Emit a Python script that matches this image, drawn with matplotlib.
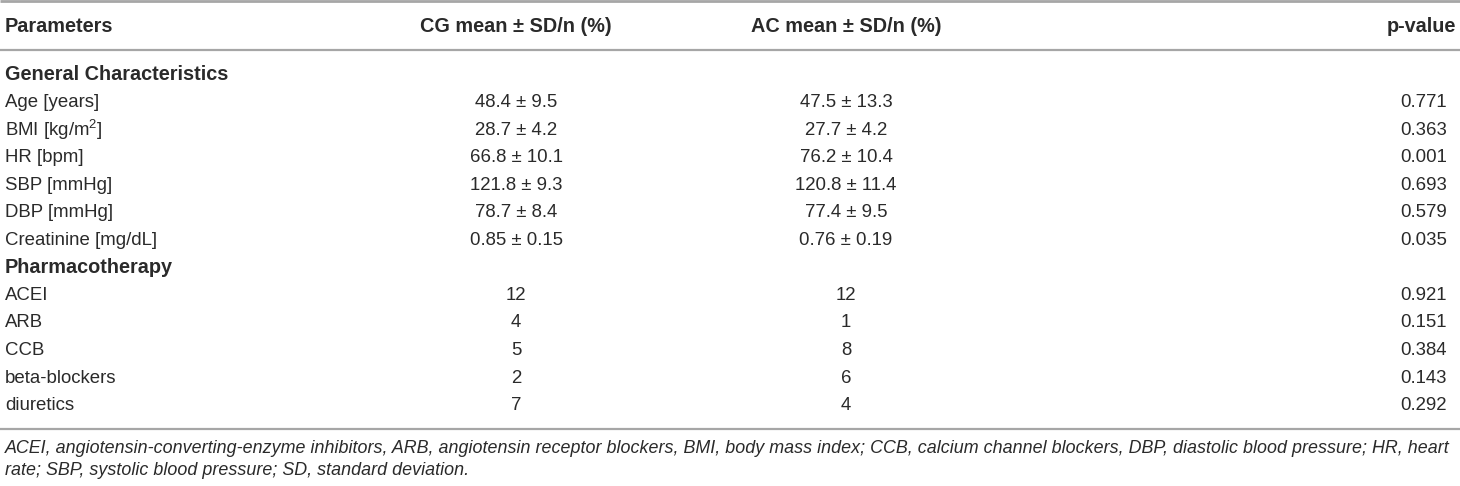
import matplotlib
matplotlib.use("Agg")
import matplotlib.pyplot as plt

plt.rcParams['font.family'] = ['Liberation Sans', 'DejaVu Sans']
plt.rcParams['mathtext.fontset'] = 'custom'
plt.rcParams['mathtext.rm'] = 'Liberation Sans'
plt.rcParams['mathtext.it'] = 'Liberation Sans:italic'
plt.rcParams['mathtext.bf'] = 'Liberation Sans:bold'

headers = ["Parameters", "CG mean \u00b1 SD/n (%)", "AC mean \u00b1 SD/n (%)", "p-value"]
sections = ["General Characteristics", "Pharmacotherapy"]
params_general = ["Age [years]", "BMI [kg/m$^{2}$]", "HR [bpm]", "SBP [mmHg]", "DBP [mmHg]", "Creatinine [mg/dL]"]
cg_general = ["48.4 \u00b1 9.5", "28.7 \u00b1 4.2", "66.8 \u00b1 10.1", "121.8 \u00b1 9.3", "78.7 \u00b1 8.4", "0.85 \u00b1 0.15"]
ac_general = ["47.5 \u00b1 13.3", "27.7 \u00b1 4.2", "76.2 \u00b1 10.4", "120.8 \u00b1 11.4", "77.4 \u00b1 9.5", "0.76 \u00b1 0.19"]
p_general = ["0.771", "0.363", "0.001", "0.693", "0.579", "0.035"]
params_pharma = ["ACEI", "ARB", "CCB", "beta-blockers", "diuretics"]
cg_pharma = ["12", "4", "5", "2", "7"]
ac_pharma = ["12", "1", "8", "6", "4"]
p_pharma = ["0.921", "0.151", "0.384", "0.143", "0.292"]
footnote = ["ACEI, angiotensin-converting-enzyme inhibitors, ARB, angiotensin receptor blockers, BMI, body mass index; CCB, calcium channel blockers, DBP, diastolic blood pressure; HR, heart",
            "rate; SBP, systolic blood pressure; SD, standard deviation."]

W, H = 1460, 486
fig = plt.figure(figsize=(W / 100, H / 100), dpi=100)
ax = fig.add_axes([0, 0, 1, 1])
ax.set_xlim(0, W)
ax.set_ylim(H, 0)
ax.axis('off')

txt = '#2a2a2a'
rule = '#a6a6a6'
fs = 13.4
fsb = 14.3
fsf = 12.9

x_left = 5
x_cg = 516
x_ac = 846
x_p_head = 1456
x_p = 1447

# rules
ax.plot([0, W], [1, 1], color=rule, lw=2.0, solid_capstyle='butt')
ax.plot([0, W], [50, 50], color=rule, lw=1.6, solid_capstyle='butt')
ax.plot([0, W], [429, 429], color=rule, lw=1.6, solid_capstyle='butt')

# header
y_head = 27
ax.text(x_left, y_head, headers[0], ha='left', va='center', fontsize=fsb, fontweight='bold', color=txt)
ax.text(x_cg, y_head, headers[1], ha='center', va='center', fontsize=fsb, fontweight='bold', color=txt)
ax.text(x_ac, y_head, headers[2], ha='center', va='center', fontsize=fsb, fontweight='bold', color=txt)
ax.text(x_p_head, y_head, headers[3], ha='right', va='center', fontsize=fsb, fontweight='bold', color=txt)

y0 = 75
dy = 27.55
row = 0

def section(name):
    global row
    ax.text(x_left, y0 + row * dy, name, ha='left', va='center', fontsize=fsb, fontweight='bold', color=txt)
    row += 1

def rows(params, cg, ac, pv):
    global row
    for a, b, c, d in zip(params, cg, ac, pv):
        y = y0 + row * dy
        ax.text(x_left, y, a, ha='left', va='center', fontsize=fs, color=txt)
        ax.text(x_cg, y, b, ha='center', va='center', fontsize=fs, color=txt)
        ax.text(x_ac, y, c, ha='center', va='center', fontsize=fs, color=txt)
        ax.text(x_p, y, d, ha='right', va='center', fontsize=fs, color=txt)
        row += 1

section(sections[0])
rows(params_general, cg_general, ac_general, p_general)
section(sections[1])
rows(params_pharma, cg_pharma, ac_pharma, p_pharma)

ax.text(x_left, 448, footnote[0], ha='left', va='center', fontsize=fsf, style='italic', color=txt)
ax.text(x_left, 470, footnote[1], ha='left', va='center', fontsize=fsf, style='italic', color=txt)

fig.savefig("out.png", dpi=100)
